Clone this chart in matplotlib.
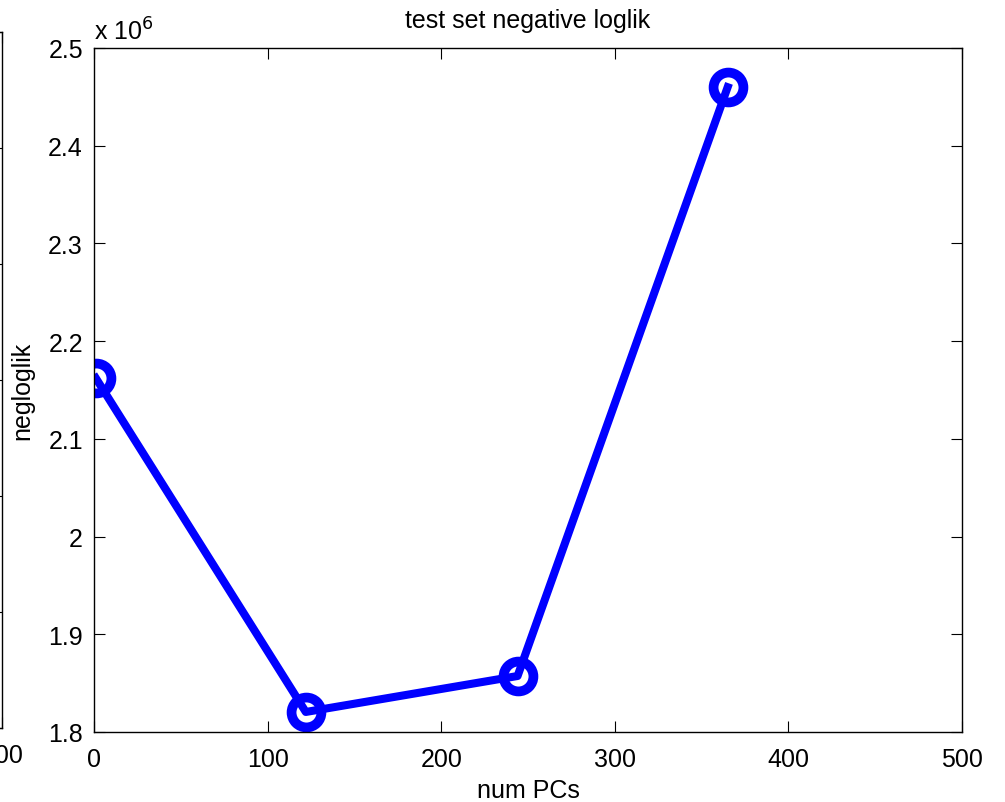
import matplotlib
matplotlib.use("Agg")
import matplotlib.pyplot as plt
from matplotlib.ticker import FuncFormatter

# Data
num_pcs = [1, 122, 244, 365]
negloglik = [2.1623e6, 1.8205e6, 1.8573e6, 2.4599e6]
x_ticks = [0, 100, 200, 300, 400, 500]
y_ticks = [1.8e6, 1.9e6, 2.0e6, 2.1e6, 2.2e6, 2.3e6, 2.4e6, 2.5e6]

plt.rcParams['font.family'] = ['Liberation Sans', 'DejaVu Sans']
FS = 18

W, H = 1005, 803
fig = plt.figure(figsize=(W / 100, H / 100), dpi=100)

def style(ax):
    for s in ax.spines.values():
        s.set_linewidth(1.0)
    ax.tick_params(direction='in', length=8, width=0.8, top=True, right=True,
                   labelsize=FS)
    ax.tick_params(axis='x', pad=11)
    ax.tick_params(axis='y', pad=8)

# partially visible neighbouring axes on the far left (only its right end shows)
ax0 = fig.add_axes([(2 - 868) / W, 1 - 729 / H, 868 / W, (729 - 33) / H])
style(ax0)
ax0.set_xlim(0, 500)
ax0.set_xticks([500])
ax0.set_xticklabels(["500"])
ax0.set_ylim(0, 6)
ax0.set_yticks(range(7))
ax0.set_yticklabels([])

# main axes
ax = fig.add_axes([94 / W, 1 - 733 / H, (962 - 94) / W, (733 - 49) / H])
style(ax)
ax.plot(num_pcs, negloglik, color=(0, 0, 1), lw=5.8, marker='o', ms=21.5,
        mew=7, mfc='none', mec=(0, 0, 1))
ax.set_xlim(0, 500)
ax.set_ylim(1.8e6, 2.5e6)
ax.set_xticks(x_ticks)
ax.set_yticks(y_ticks)
ax.yaxis.set_major_formatter(FuncFormatter(lambda v, p: f"{v / 1e6:g}"))
ax.set_title("test set negative loglik", fontsize=FS, pad=15)
ax.set_xlabel("num PCs", fontsize=FS, labelpad=5)
ax.set_ylabel("negloglik", fontsize=FS)
ax.yaxis.label.set_va('center')
ax.yaxis.set_label_coords(-0.083, 0.5)
ax.text(0.0, 1.013, "x 10$^{6}$", transform=ax.transAxes, fontsize=FS,
        ha='left', va='baseline')

fig.savefig("out.png", dpi=100)
